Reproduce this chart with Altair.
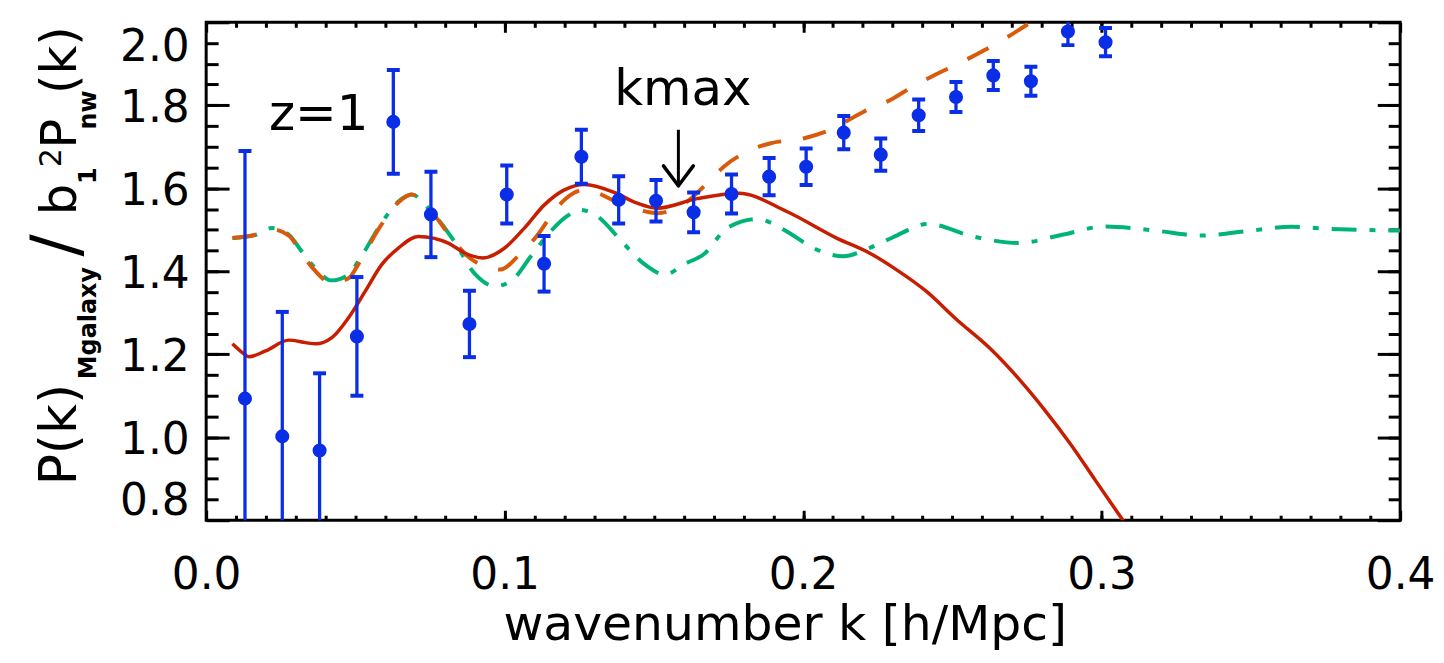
import altair as alt
import pandas as pd

# ---------------- data ----------------
pt_k = [0.013, 0.0255, 0.038, 0.0505, 0.0627, 0.0753, 0.0882, 0.1007, 0.1132, 0.1257,
        0.1382, 0.1507, 0.1633, 0.1760, 0.1886, 0.2010, 0.2136, 0.2260, 0.2387, 0.2512,
        0.2637, 0.2763, 0.2887, 0.3013]
pt_v = [1.093, 1.002, 0.968, 1.243, 1.760, 1.537, 1.273, 1.585, 1.418, 1.676,
        1.572, 1.570, 1.542, 1.586, 1.628, 1.652, 1.734, 1.681, 1.776, 1.820,
        1.872, 1.858, 1.978, 1.952]
pt_err = [0.597, 0.300, 0.186, 0.143, 0.125, 0.103, 0.080, 0.070, 0.067, 0.065,
          0.057, 0.050, 0.048, 0.047, 0.045, 0.044, 0.040, 0.039, 0.038, 0.036,
          0.035, 0.035, 0.033, 0.034]

red_k = [0.0088, 0.0121, 0.0143, 0.0199, 0.0277, 0.0333, 0.0366, 0.0421, 0.0477, 0.0533,
         0.0588, 0.0644, 0.0711, 0.0811, 0.0866, 0.0927, 0.1000, 0.1066, 0.1133, 0.1200,
         0.1267, 0.1367, 0.1444, 0.1511, 0.1645, 0.1784, 0.1945, 0.2112, 0.2222, 0.2312,
         0.2412, 0.2512, 0.2629, 0.2812, 0.2896, 0.2979, 0.3073]
red_v = [1.225, 1.204, 1.194, 1.208, 1.234, 1.228, 1.225, 1.240, 1.288, 1.352,
         1.416, 1.456, 1.484, 1.468, 1.444, 1.432, 1.456, 1.504, 1.560, 1.596,
         1.609, 1.590, 1.564, 1.552, 1.575, 1.588, 1.544, 1.480, 1.444, 1.404,
         1.352, 1.285, 1.212, 1.063, 0.983, 0.896, 0.798]

green_k = [0.0088, 0.0166, 0.0220, 0.0277, 0.0320, 0.0360, 0.0420, 0.0477, 0.0510, 0.0577,
           0.0644, 0.0688, 0.0754, 0.0831, 0.0901, 0.0967, 0.1021, 0.1088, 0.1154, 0.1211,
           0.1251, 0.1301, 0.1401, 0.1468, 0.1538, 0.1601, 0.1667, 0.1745, 0.1845, 0.1945,
           0.2034, 0.2134, 0.2222, 0.2301, 0.2418, 0.2568, 0.2722, 0.2868, 0.3012, 0.3179,
           0.3335, 0.3480, 0.3635, 0.3769, 0.4000]
green_v = [1.480, 1.488, 1.504, 1.488, 1.448, 1.412, 1.378, 1.392, 1.424, 1.504,
           1.568, 1.585, 1.544, 1.472, 1.393, 1.364, 1.376, 1.436, 1.496, 1.534,
           1.548, 1.537, 1.465, 1.417, 1.392, 1.417, 1.441, 1.504, 1.526, 1.496,
           1.456, 1.436, 1.456, 1.482, 1.514, 1.484, 1.468, 1.488, 1.508, 1.498,
           1.486, 1.496, 1.507, 1.502, 1.498]

orange_k = [0.0088, 0.0166, 0.0220, 0.0277, 0.0320, 0.0360, 0.0420, 0.0477, 0.0510, 0.0577,
            0.0644, 0.0688, 0.0754, 0.0831, 0.0883, 0.0987, 0.1044, 0.1111, 0.1178, 0.1267,
            0.1400, 0.1511, 0.1611, 0.1678, 0.1734, 0.1823, 0.1888, 0.2001, 0.2088, 0.2201,
            0.2295, 0.2369, 0.2449, 0.2525, 0.2605, 0.2679, 0.2759, 0.2796]
orange_v = [1.480, 1.488, 1.501, 1.486, 1.443, 1.405, 1.372, 1.383, 1.417, 1.501,
            1.566, 1.585, 1.544, 1.472, 1.432, 1.404, 1.436, 1.488, 1.556, 1.596,
            1.560, 1.540, 1.568, 1.612, 1.652, 1.692, 1.708, 1.720, 1.740, 1.784,
            1.814, 1.846, 1.876, 1.902, 1.932, 1.962, 1.998, 2.014]

ann_text = ["z=1", "kmax"]
ann_k = [0.0377, 0.1597]
ann_v = [1.741, 1.800]

arrow_k = [0.1582]
arrow_top = [1.741]
arrow_tip = [1.606]
head_k = [0.1532, 0.1632]
head_v = [1.654, 1.654]

x_major = [0.0, 0.1, 0.2, 0.3, 0.4]
x_minor = [round(0.01 * i, 2) for i in range(1, 40)]
y_major = [0.8, 1.0, 1.2, 1.4, 1.6, 1.8, 2.0]
y_minor = [round(0.8 + 0.05 * i, 2) for i in range(1, 24)]

# ---------------- tables ----------------
pts = pd.DataFrame({"k": pt_k, "v": pt_v, "err": pt_err})
pts["lo"] = pts["v"] - pts["err"]
pts["hi"] = pts["v"] + pts["err"]
red = pd.DataFrame({"k": red_k, "v": red_v})
green = pd.DataFrame({"k": green_k, "v": green_v})
orange = pd.DataFrame({"k": orange_k, "v": orange_v})
ann = pd.DataFrame({"k": ann_k, "v": ann_v, "t": ann_text})
shaft = pd.DataFrame({"k": arrow_k, "v": arrow_top, "v2": arrow_tip})
head = pd.DataFrame({"k": head_k, "v": head_v, "k2": arrow_k * 2, "v2": arrow_tip * 2})
one = pd.DataFrame({"a": [0]})

FONT = "DejaVu Sans"
RED = "#c81e00"
ORANGE = "#d95a0a"
GREEN = "#00b478"
BLUE = "#0a2de6"

xs = alt.Scale(domain=[0.0, 0.4], nice=False, zero=False)
ys = alt.Scale(domain=[0.8, 2.0], nice=False, zero=False)


def X(field="k"):
    return alt.X(f"{field}:Q", scale=xs, axis=None)


def Y(field="v"):
    return alt.Y(f"{field}:Q", scale=ys, axis=None)


green_line = alt.Chart(green).mark_line(
    color=GREEN, strokeWidth=4, strokeDash=[25, 13, 6, 13], interpolate="monotone", clip=True
).encode(x=X(), y=Y())
orange_line = alt.Chart(orange).mark_line(
    color=ORANGE, strokeWidth=4, strokeDash=[24, 22], interpolate="monotone", clip=True
).encode(x=X(), y=Y())
red_line = alt.Chart(red).mark_line(
    color=RED, strokeWidth=3.5, interpolate="monotone", clip=True
).encode(x=X(), y=Y())

err_rule = alt.Chart(pts).mark_rule(color=BLUE, strokeWidth=3.3, clip=True).encode(
    x=X(), y=Y("lo"), y2="hi:Q")
cap_lo = alt.Chart(pts).mark_tick(color=BLUE, orient="horizontal", size=13, thickness=4,
                                  clip=True, opacity=1).encode(x=X(), y=Y("lo"))
cap_hi = alt.Chart(pts).mark_tick(color=BLUE, orient="horizontal", size=13, thickness=4,
                                  clip=True, opacity=1).encode(x=X(), y=Y("hi"))
dots = alt.Chart(pts).mark_circle(color=BLUE, size=200, opacity=1, clip=True).encode(
    x=X(), y=Y())

ann_text_layer = alt.Chart(ann).mark_text(
    font=FONT, fontSize=50, color="black", align="center", baseline="alphabetic"
).encode(x=X(), y=Y(), text="t:N")

arrow_shaft = alt.Chart(shaft).mark_rule(color="black", strokeWidth=3).encode(
    x=X(), y=Y(), y2="v2:Q")
arrow_head = alt.Chart(head).mark_rule(color="black", strokeWidth=3.5, strokeCap="round").encode(
    x=X(), y=Y(), x2="k2:Q", y2="v2:Q")


def ytxt(s, px, py, size, weight="normal"):
    return alt.Chart(one).mark_text(
        text=s, angle=270, align="center", baseline="alphabetic", font=FONT,
        fontSize=size, fontWeight=weight, color="black"
    ).encode(x=alt.value(px), y=alt.value(py))


ytitle = [
    ytxt("P(k)", -131, 414, 52),
    ytxt("Mgalaxy", -111, 302, 24, "bold"),
    ytxt("/", -129, 224, 66),
    ytxt("b", -131, 178, 50),
    ytxt("1", -111, 154, 24, "bold"),
    ytxt("2", -146, 136, 30),
    ytxt("P", -131, 112, 50),
    ytxt("nw", -111, 88, 24, "bold"),
    ytxt("(k)", -131, 38, 50),
]


def guide(xaxis, yaxis):
    return alt.Chart(pts).mark_point(opacity=0).encode(
        x=alt.X("k:Q", scale=xs, axis=xaxis),
        y=alt.Y("v:Q", scale=ys, axis=yaxis))


def tick_axis(orient, values, size):
    return alt.Axis(orient=orient, values=values, offset=-size, tickSize=size, tickWidth=3,
                    tickColor="black", ticks=True, labels=False, domain=False, grid=False,
                    title=None)


x_label_axis = alt.Axis(
    orient="bottom", values=x_major, format=".1f", ticks=False, tickSize=0, domain=False,
    grid=False, labelFontSize=44, labelPadding=34, labelColor="black", labelOverlap=False,
    labelFlush=False, labelFont=FONT,
    title="wavenumber k [h/Mpc]", titleFont=FONT, titleFontSize=49, titleFontWeight="normal",
    titleX=581, titleY=120, titleBaseline="alphabetic", titleAlign="center", titleColor="black")
y_label_axis = alt.Axis(
    orient="left", values=y_major, format=".1f", ticks=False, tickSize=0, domain=False,
    grid=False, labelFontSize=44, labelPadding=17, labelColor="black", labelOverlap=False,
    labelFlush=True, labelOffset=3, labelFont=FONT, title=None)

guides = [
    guide(x_label_axis, y_label_axis),
    guide(tick_axis("bottom", x_major, 10), tick_axis("left", y_major, 23)),
    guide(tick_axis("bottom", x_minor, 5), tick_axis("left", y_minor, 12)),
    guide(tick_axis("top", x_major, 10), tick_axis("right", y_major, 23)),
    guide(tick_axis("top", x_minor, 5), tick_axis("right", y_minor, 12)),
]

chart = alt.layer(
    green_line, orange_line, red_line, err_rule, cap_lo, cap_hi, dots,
    ann_text_layer, arrow_shaft, arrow_head, *ytitle, *guides
).resolve_axis(x="independent", y="independent").properties(
    width=1199, height=500,
    padding={"left": 199, "top": 13, "right": 36, "bottom": 134},
    autosize=alt.AutoSizeParams(type="none"),
    background="white",
).configure_view(stroke="black", strokeWidth=3).configure_axis(
    labelFont=FONT, titleFont=FONT)

chart.save("out.html", embed_options={"renderer": "svg", "actions": False})
